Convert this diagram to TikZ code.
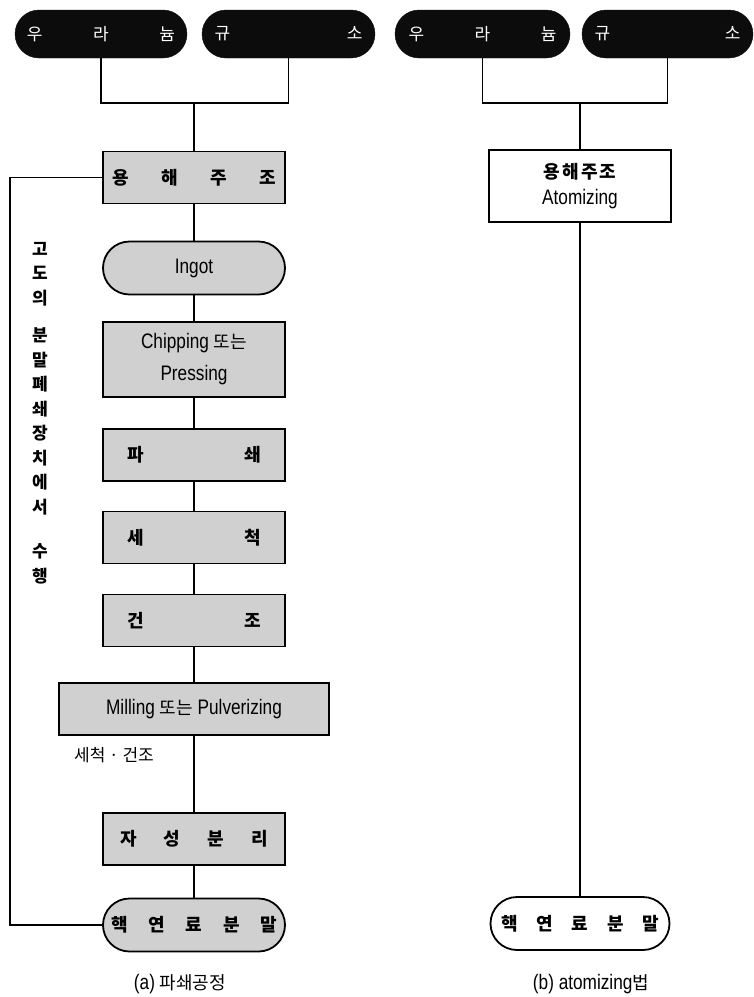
\documentclass[tikz,border=0pt]{standalone}
\usepackage{fontspec}
\setmainfont{Liberation Sans}[FakeStretch=0.82]
\newfontfamily\kr{Noto Sans CJK KR}
\usetikzlibrary{positioning, calc}
\definecolor{boxGray}{RGB}{208,208,208}
\definecolor{pillBlack}{RGB}{12,12,12}
\newcommand\spreadbox[2]{\hbox to #1{#2}}
\def\colA{194}
\def\colB{580}
\def\colFeed{10}
\def\rowSrc{34}
\def\rowJoin{103}
\def\rowMelt{177.5}
\def\rowMeltB{186}
\def\rowIngot{268}
\def\rowChip{359.5}
\def\rowCrush{455}
\def\rowWash{537.5}
\def\rowDry{620.5}
\def\rowMill{709}
\def\rowSep{839}
\def\rowPowder{925}
\def\rowCap{984}

\begin{document}
\begin{tikzpicture}[
    x=1pt, y=-1pt,
    line/.style     ={line width=1.8pt, black},
    srcPill/.style  ={rectangle, rounded corners=24pt, fill=pillBlack, draw=pillBlack,
                      minimum width=172pt, minimum height=48pt, inner sep=0pt,
                      text=white, font=\kr\fontsize{17pt}{20pt}\selectfont},
    grayBox/.style  ={rectangle, draw=black, line width=1.8pt, fill=boxGray,
                      minimum width=182pt, minimum height=52pt, inner sep=0pt,
                      align=center, font=\fontsize{21pt}{26pt}\selectfont},
    grayPill/.style ={grayBox, rounded corners=26.5pt, minimum height=53pt},
    korBold/.style  ={font=\kr\bfseries\fontsize{18pt}{22pt}\selectfont},
    caption/.style  ={font=\fontsize{21pt}{24pt}\selectfont},
]
\useasboundingbox (0,0) rectangle (754,997);

% =====================================================
% LEFT: (a) crushing process
% =====================================================
\node[srcPill]                        (uranA) at (101,\rowSrc)   {\spreadbox{148pt}{우\hfill 라\hfill 늄}};
\node[srcPill, minimum width=173pt]   (siliA) at (288.5,\rowSrc) {\spreadbox{148pt}{규\hfill 소}};
\coordinate (joinA) at (\colA,\rowJoin);

\node[grayBox, korBold] (meltA)  at (\colA,\rowMelt)  {\spreadbox{164pt}{용\hfill 해\hfill 주\hfill 조}};
\node[grayPill]         (ingot)  at (\colA,\rowIngot) {Ingot};
\node[grayBox, minimum height=75pt]
                        (chip)   at (\colA,\rowChip)  {Chipping {\kr\fontsize{18pt}{22pt}\selectfont 또는}\\[6pt]Pressing};
\node[grayBox, korBold] (crush)  at (\colA,\rowCrush) {\spreadbox{134pt}{파\hfill 쇄}};
\node[grayBox, korBold] (wash)   at (\colA,\rowWash)  {\spreadbox{134pt}{세\hfill 척}};
\node[grayBox, korBold] (dry)    at (\colA,\rowDry)   {\spreadbox{134pt}{건\hfill 조}};
\node[grayBox, minimum width=270pt]
                        (mill)   at (\colA,\rowMill)  {Milling {\kr\fontsize{18pt}{22pt}\selectfont 또는} Pulverizing};
\node[font=\kr\fontsize{17pt}{20pt}\selectfont]
                        (millNote) at (114,755)       {세척 · 건조};
\node[grayBox, korBold] (sep)    at (\colA,\rowSep)   {\spreadbox{148pt}{자\hfill 성\hfill 분\hfill 리}};
\node[grayPill, korBold] (powderA) at (\colA,\rowPowder) {\spreadbox{166pt}{핵\hfill 연\hfill 료\hfill 분\hfill 말}};

% side note in the sealed box
\node[font=\kr\bfseries\fontsize{17pt}{24.5pt}\selectfont, align=center]
      (sideNote) at (40,413) {고\\도\\의\\[13pt]분\\말\\폐\\쇄\\장\\치\\에\\서\\[20pt]수\\행};

\node[caption] (capA) at (180,\rowCap) {(a) {\kr\fontsize{18pt}{22pt}\selectfont 파쇄공정}};

% connections
\draw[line] (uranA.south) |- (joinA) -| (siliA.south);
\draw[line] (joinA) -- (meltA.north);
\draw[line] (meltA) -- (ingot);
\draw[line] (ingot) -- (chip);
\draw[line] (chip)  -- (crush);
\draw[line] (crush) -- (wash);
\draw[line] (wash)  -- (dry);
\draw[line] (dry)   -- (mill);
\draw[line] (mill)  -- (sep);
\draw[line] (sep)   -- (powderA);

% enclosure line
\coordinate (feedTop) at (\colFeed,\rowMelt);
\draw[line] (meltA.west) -- (feedTop) |- (powderA.west);

% =====================================================
% RIGHT: (b) atomizing
% =====================================================
\node[srcPill, minimum width=175pt] (uranB) at (482.5,\rowSrc) {\spreadbox{148pt}{우\hfill 라\hfill 늄}};
\node[srcPill, minimum width=171pt] (siliB) at (667.5,\rowSrc) {\spreadbox{146pt}{규\hfill 소}};
\coordinate (joinB) at (\colB,\rowJoin);

\node[grayBox, fill=white, minimum height=72pt]
      (meltB) at (\colB,\rowMeltB) {{\kr\bfseries\fontsize{18pt}{22pt}\selectfont 용\kern2pt 해\kern2pt 주\kern2pt 조}\\Atomizing};
\node[grayPill, fill=white, korBold, minimum width=179pt]
      (powderB) at (\colB,923.5) {\spreadbox{158pt}{핵\hfill 연\hfill 료\hfill 분\hfill 말}};

\node[caption] (capB) at (591,\rowCap) {(b) atomizing{\kr\fontsize{18pt}{22pt}\selectfont 법}};

\draw[line] (uranB.south) |- (joinB) -| (siliB.south);
\draw[line] (joinB) -- (meltB.north);
\draw[line] (meltB) -- (powderB);

\end{tikzpicture}
\end{document}
